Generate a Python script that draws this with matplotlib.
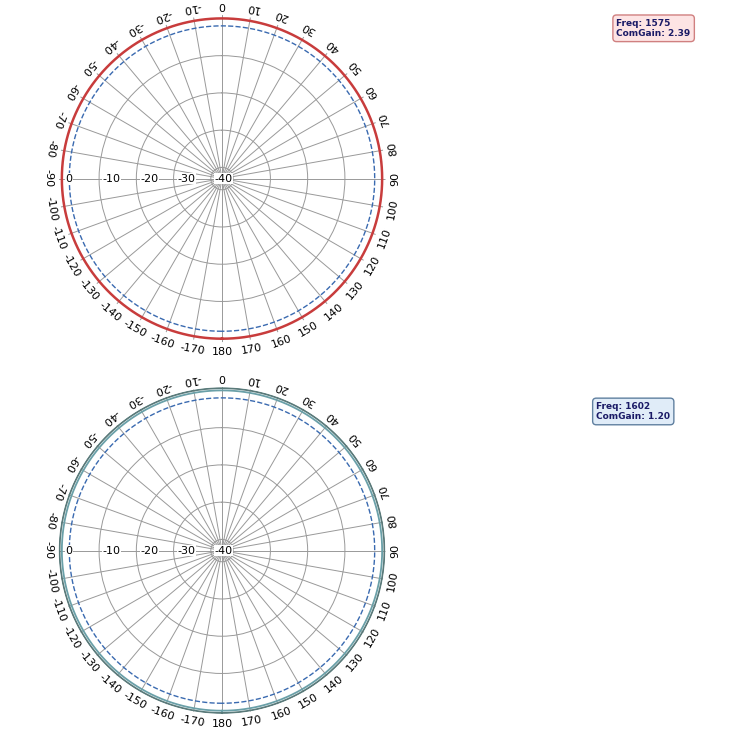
import matplotlib

matplotlib.use("Agg")
import matplotlib.pyplot as plt
import numpy as np

# pattern angles (deg, compass, clockwise from top), 1 deg steps, and gains (dB)
angles = list(range(-180, 181))
gain_1575 = [0.0] * 361
ref_1575 = [-2.0] * 361
gain_1602_a = [0.6] * 361
gain_1602_b = [0.0] * 361
ref_1602 = [-2.0] * 361
rings = [-40, -30, -20, -10]
label_angles = list(range(-170, 181, 10))


def draw(ax, series, legend, fc, ec):
    ax.set_theta_zero_location("N")
    ax.set_theta_direction(-1)
    ax.set_ylim(-43, 0.9)
    th = np.deg2rad(angles)
    for vals, color, ls, lw in series:
        ax.plot(th, vals, color=color, ls=ls, lw=lw)
    ax.set_xticks(np.deg2rad(np.arange(0, 360, 10)))
    ax.set_xticklabels([])
    ax.set_yticks(rings)
    ax.set_yticklabels([])
    ax.grid(color="#999999", lw=0.7)
    ax.spines["polar"].set_visible(False)
    for r in rings + [0]:
        ax.text(np.deg2rad(-90), r - 1.0, str(r), fontsize=8, ha="left", va="center",
                bbox=dict(fc="white", ec="none", pad=0.3))
    for a in label_angles:
        ax.text(np.deg2rad(a), 3.6, str(a), fontsize=8, rotation=180 - a,
                ha="center", va="center", rotation_mode="anchor")
    ax.figure.text(legend[0], legend[1], legend[2], fontsize=6.5, fontweight="bold",
                   color="#1a1a66", va="top",
                   bbox=dict(boxstyle="round,pad=0.4", fc=fc, ec=ec, lw=1))


fig = plt.figure(figsize=(7.5, 7.44), dpi=100)
ax1 = fig.add_axes([0.078, 0.54, 0.436, 0.44], projection="polar")
draw(ax1, [(gain_1575, "#c83c3c", "-", 1.8), (ref_1575, "#3a6ab0", "--", 1.0)],
     (0.822, 0.975, "Freq: 1575\nComGain: 2.39"), "#fde4e4", "#d08080")
ax2 = fig.add_axes([0.078, 0.04, 0.436, 0.44], projection="polar")
draw(ax2, [(gain_1602_a, "#5a7a7a", "-", 1.3), (gain_1602_b, "#6aa0a8", "-", 1.3),
           (ref_1602, "#3a6ab0", "--", 1.0)],
     (0.795, 0.46, "Freq: 1602\nComGain: 1.20"), "#e0ecf8", "#6080a0")
fig.savefig("out.png", dpi=100)
